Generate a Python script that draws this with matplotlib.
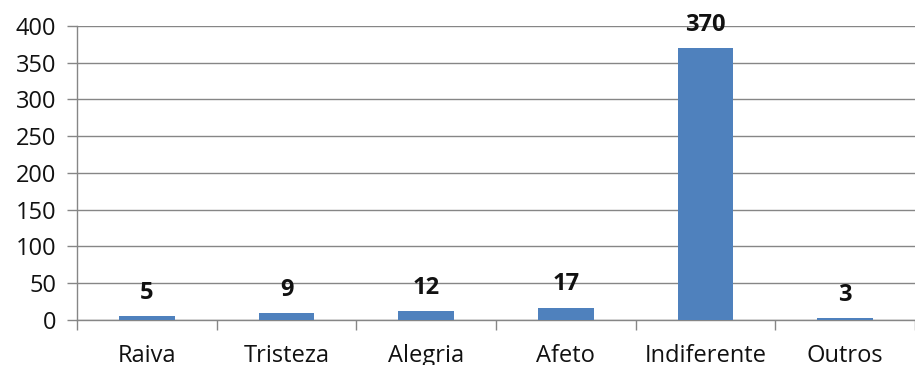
import matplotlib.pyplot as plt
import numpy as np

categorias = ['Raiva', 'Tristeza', 'Alegria', 'Afeto', 'Indiferente', 'Outros']
valores = [5, 9, 12, 17, 370, 3]

plt.rcParams['font.family'] = ['Open Sans', 'DejaVu Sans']

fig = plt.figure(figsize=(9.15, 3.65), dpi=100)
ax = fig.add_axes([0.0842, 0.1233, 0.9158, 0.8055])

x = np.arange(len(categorias))
ax.bar(x, valores, width=0.4, color='#4F81BD', zorder=3)

# rótulos de valor acima de cada barra
for xi, v in zip(x, valores):
    ax.annotate(str(v), (xi, v), xytext=(0, 8), textcoords='offset points',
                ha='center', va='bottom', fontsize=17, fontweight='bold',
                color='#111111')

ax.set_ylim(0, 400)
ax.set_yticks(np.arange(0, 401, 50))
ax.set_xlim(-0.5, 5.45)
ax.yaxis.grid(True, color='#868686', linewidth=1)
ax.set_axisbelow(True)

ax.set_xticks(x)
ax.set_xticklabels(categorias)
ax.set_xticks(np.arange(-0.5, 6, 1), minor=True)
ax.tick_params(axis='x', which='major', length=0, pad=17, labelsize=17,
               colors='#111111')
ax.tick_params(axis='x', which='minor', length=7, color='#868686', width=1)
ax.tick_params(axis='y', length=7, color='#868686', width=1, pad=8,
               labelsize=17, colors='#111111')

for s in ['top', 'right']:
    ax.spines[s].set_visible(False)
for s in ['left', 'bottom']:
    ax.spines[s].set_color('#868686')
    ax.spines[s].set_linewidth(1)

fig.savefig('out.png', dpi=100)
